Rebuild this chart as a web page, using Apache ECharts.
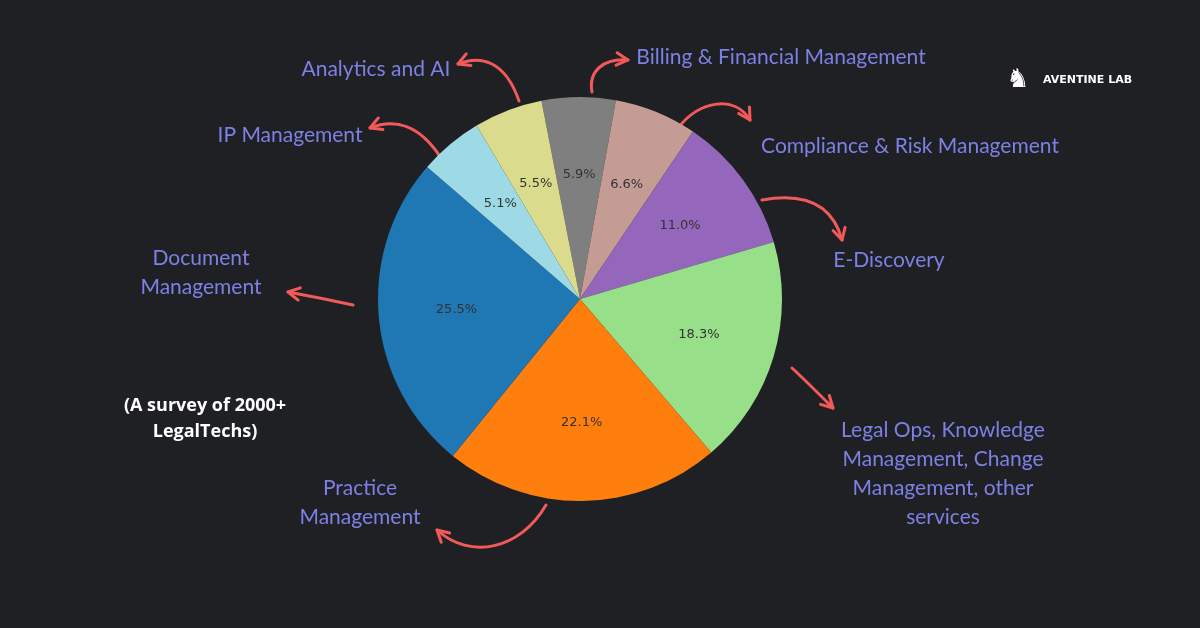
<!DOCTYPE html>
<html><head><meta charset="utf-8">
<script src="https://cdn.jsdelivr.net/npm/echarts@6/dist/echarts.min.js"></script>
<style>html,body{margin:0;padding:0;background:#1f2024;}#c{width:1200px;height:628px;}</style>
</head><body><div id="c"></div>
<script>
const categories = ['Billing & Financial Management','Compliance & Risk Management','E-Discovery','Legal Ops, Knowledge Management, Change Management, other services','Practice Management','Document Management','IP Management','Analytics and AI'];
const values = [5.9, 6.6, 11.0, 18.3, 22.1, 25.5, 5.1, 5.5];
const colors = ['#7f7f7f','#c49c94','#9467bd','#98df8a','#ff7f0e','#1f77b4','#9edae5','#dbdb8d'];
const outerLabels = ['Billing & Financial Management','Compliance & Risk Management','E-Discovery','Legal Ops, Knowledge\nManagement, Change\nManagement, other\nservices','Practice\nManagement','Document\nManagement','IP Management','Analytics and AI'];

const chart = echarts.init(document.getElementById('c'));
const LC = '#7d80e4', AC = '#f25a5a';
const labelPos = [[781,57,'center'],[910,146,'center'],[889,260,'center'],[943,474,'center'],[360,503,'center'],[201,273,'center'],[290,135,'center'],[376,69,'center']];
const texts = outerLabels.map((t,i)=>({type:'text',x:labelPos[i][0],y:labelPos[i][1],style:{text:t,fill:LC,font:'21px Lato',align:'center',verticalAlign:'middle',lineHeight:29}}));
const arrows = [
 [592,92,588,70,605,58,628,60],
 [678,128,700,100,735,95,750,120],
 [762,200,790,195,830,195,842,240],
 [792,368,805,380,820,395,833,408],
 [546,505,520,550,470,560,437,530],
 [353,305,330,300,310,296,288,292],
 [441,158,420,125,395,118,370,128],
 [519,101,505,60,480,55,458,64]
];
const arrowEls = [];
arrows.forEach(a=>{
  arrowEls.push({type:'bezierCurve',shape:{x1:a[0],y1:a[1],cpx1:a[2],cpy1:a[3],cpx2:a[4],cpy2:a[5],x2:a[6],y2:a[7]},style:{stroke:AC,lineWidth:3,fill:null,lineCap:'round'}});
  const dx=a[6]-a[4], dy=a[7]-a[5], L=Math.hypot(dx,dy), ux=dx/L, uy=dy/L, s=13;
  const ang=0.5;
  const p=(t)=>[a[6]-s*(ux*Math.cos(t)-uy*Math.sin(t)), a[7]-s*(uy*Math.cos(t)+ux*Math.sin(t))];
  arrowEls.push({type:'polyline',shape:{points:[p(ang),[a[6],a[7]],p(-ang)]},style:{stroke:AC,lineWidth:3,fill:null,lineCap:'round',lineJoin:'round'}});
});
chart.setOption({
  backgroundColor:'#1f2024',
  animation:false,
  series:[{
    type:'pie', center:[580,299], radius:[0,202], startAngle:101, clockwise:true,
    label:{show:false}, labelLine:{show:false}, silent:true,
    itemStyle:{borderWidth:0},
    data:categories.map((c,i)=>({name:c,value:values[i],itemStyle:{color:colors[i]}}))
  },{
    type:'pie', center:[580,299], radius:[0,242], startAngle:101, clockwise:true, silent:true,
    itemStyle:{color:'rgba(0,0,0,0)'},
    label:{show:true,position:'inside',formatter:p=>p.value.toFixed(1)+'%',color:'#333',fontSize:13,fontFamily:'DejaVu Sans'},
    data:categories.map((c,i)=>({name:c,value:values[i]}))
  }],
  graphic:[...texts,...arrowEls,
    {type:'text',x:205,y:419,style:{text:'(A survey of 2000+\nLegalTechs)',fill:'#ffffff',font:'bold 18px "Open Sans"',align:'center',verticalAlign:'middle',lineHeight:26}},
    {type:'text',x:1043,y:80,style:{text:'AVENTINE LAB',fill:'#ffffff',font:'bold 11px "DejaVu Sans"',verticalAlign:'middle'}},
    {type:'text',x:1018,y:80,style:{text:'♞',fill:'#ffffff',font:'26px "DejaVu Sans"',align:'center',verticalAlign:'middle'}}
  ]
});
</script></body></html>
